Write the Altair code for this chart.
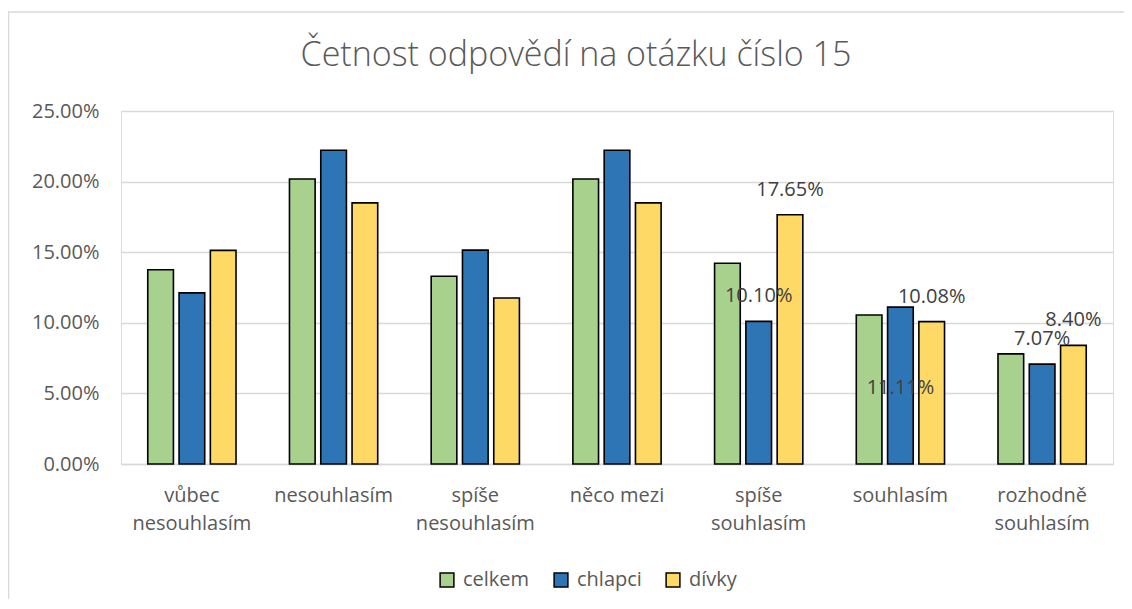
import altair as alt
import pandas as pd

FONT = "Open Sans"

categories = ["vůbec nesouhlasím", "nesouhlasím", "spíše nesouhlasím", "něco mezi",
              "spíše souhlasím", "souhlasím", "rozhodně souhlasím"]
series = ["celkem", "chlapci", "dívky"]
celkem = [0.1376, 0.2018, 0.1330, 0.2018, 0.1422, 0.1055, 0.0780]
chlapci = [0.1212, 0.2222, 0.1515, 0.2222, 0.1010, 0.1111, 0.0707]
divky = [0.1513, 0.1849, 0.1176, 0.1849, 0.1765, 0.1008, 0.0840]
colors = ["#A9D18E", "#2E75B6", "#FFD966"]
y_ticks = [0, 0.05, 0.10, 0.15, 0.20, 0.25]
title_text = "Četnost odpovědí na otázku číslo 15"

# data labels that are shown in the original (Excel) chart
labels_above = [("spíše souhlasím", "chlapci"), ("spíše souhlasím", "dívky"),
                ("souhlasím", "dívky"), ("rozhodně souhlasím", "chlapci"),
                ("rozhodně souhlasím", "dívky")]
labels_moved = [("souhlasím", "chlapci")]

rows = []
for s, vals in zip(series, [celkem, chlapci, divky]):
    for c, v in zip(categories, vals):
        lab = "above" if (c, s) in labels_above else ("moved" if (c, s) in labels_moved else "")
        rows.append({"kategorie": c, "skupina": s, "hodnota": v, "lab": lab})
df = pd.DataFrame(rows)

x_enc = alt.X(
    "kategorie:N", sort=categories,
    scale=alt.Scale(paddingInner=0.3375, paddingOuter=0.169),
    axis=alt.Axis(
        title=None, labelAngle=0, ticks=False, domainColor="#d9d9d9", domainWidth=1.3,
        labelExpr="length(datum.label) > 11 ? split(datum.label, ' ') : datum.label",
        labelColor="#595959", labelFontSize=20, labelFont=FONT, labelLineHeight=28.5,
        labelPadding=21,
    ),
)
xo_enc = alt.XOffset("skupina:N", sort=series,
                     scale=alt.Scale(paddingInner=0.18, paddingOuter=0.09))
y_enc = alt.Y(
    "hodnota:Q", scale=alt.Scale(domain=[0, 0.25], nice=False),
    axis=alt.Axis(
        values=y_ticks, format=".2%", title=None, domain=False, ticks=False,
        gridColor="#d9d9d9", gridWidth=1.3, labelPadding=22,
        labelColor="#595959", labelFontSize=20, labelFont=FONT,
    ),
)

bars = alt.Chart(df).mark_bar(stroke="black", strokeWidth=1.6).encode(
    x=x_enc, xOffset=xo_enc, y=y_enc,
    color=alt.Color(
        "skupina:N", sort=series,
        scale=alt.Scale(domain=series, range=colors),
        legend=alt.Legend(
            title=None, orient="none", legendX=316, legendY=459, direction="horizontal",
            symbolType="square", symbolSize=190, symbolStrokeColor="black",
            symbolStrokeWidth=1.5, labelFontSize=20, labelColor="#595959", labelFont=FONT,
            columnPadding=21, labelOffset=6, padding=0,
        ),
    ),
)

txt_above = alt.Chart(df).transform_filter(alt.datum.lab == "above").mark_text(
    dy=-25, fontSize=20, color="#404040", font=FONT
).encode(x=x_enc, xOffset=xo_enc, y=y_enc,
         text=alt.Text("hodnota:Q", format=".2%"))

txt_moved = alt.Chart(df).transform_filter(alt.datum.lab == "moved").mark_text(
    dy=81, fontSize=20, color="#404040", font=FONT
).encode(x=x_enc, xOffset=xo_enc, y=y_enc,
         text=alt.Text("hodnota:Q", format=".2%"))

one = pd.DataFrame({"t": [title_text]})
title_mark = alt.Chart(one).mark_text(
    font=FONT, fontSize=34, fontWeight=300, color="#595959",
    align="center", baseline="alphabetic",
).encode(x=alt.value(455), y=alt.value(-45), text="t:N")

border_top = alt.Chart(one).mark_rule(color="#d9d9d9", strokeWidth=1.5).encode(
    x=alt.value(-113), x2=alt.value(1010), y=alt.value(-99))
border_left = alt.Chart(one).mark_rule(color="#d9d9d9", strokeWidth=1.5).encode(
    x=alt.value(-112.5), y=alt.value(-99), y2=alt.value(500))

chart = alt.layer(bars, txt_above, txt_moved, title_mark, border_top, border_left).properties(
    width=992, height=353,
    autosize=alt.AutoSizeParams(type="none"),
    padding={"left": 113, "top": 103, "right": 11, "bottom": 135},
).configure_view(stroke=None).configure(background="white")

chart.save("out.html", embed_options={"renderer": "svg", "actions": False})
